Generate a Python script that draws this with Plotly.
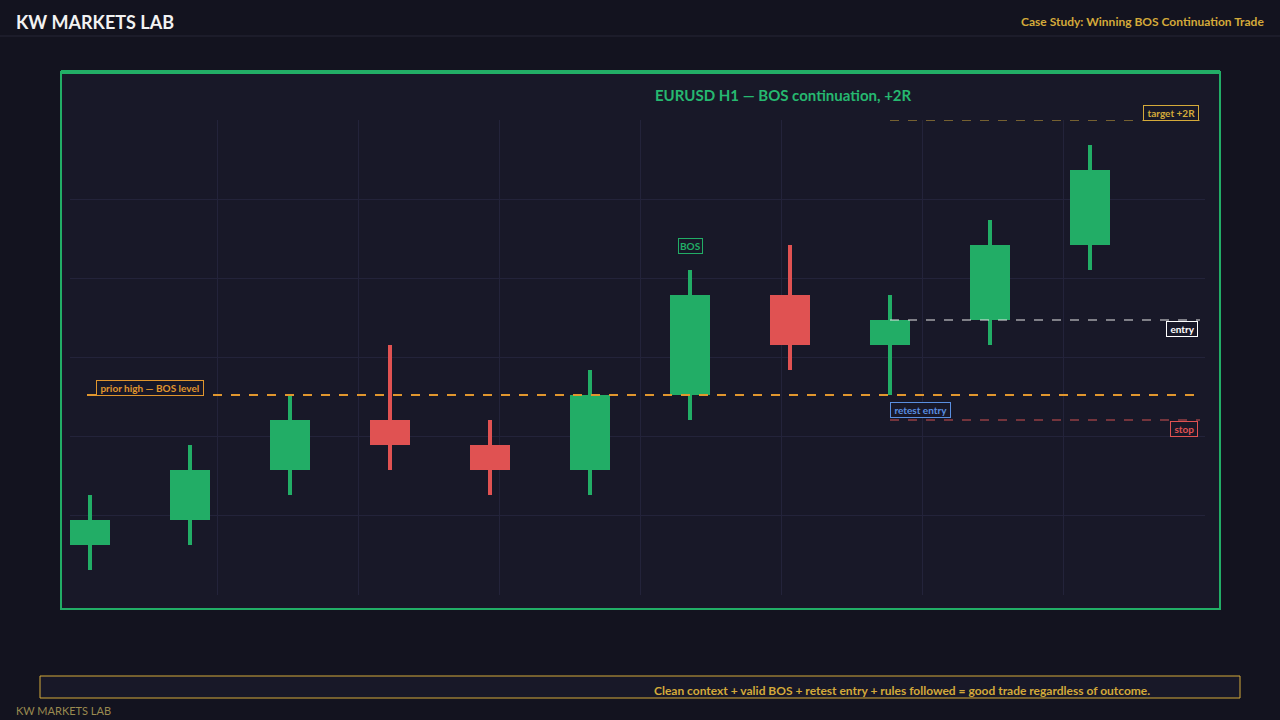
import plotly.graph_objects as go

idx = list(range(11))
opens  = [1, 2, 4, 6, 5, 4, 7, 11, 9, 10, 13]
closes = [2, 4, 6, 5, 4, 7, 11, 9, 10, 13, 16]
highs  = [3, 5, 7, 9, 6, 8, 12, 13, 11, 14, 17]
lows   = [0, 1, 3, 4, 3, 3, 6, 8, 7, 9, 12]
bos_level, entry_level, stop_level, target_level = 7, 10, 6, 18
entry_idx = 8
x_grid = [1.27, 2.68, 4.09, 5.5, 6.91, 8.32, 9.73]

GREEN, RED = "#22ad66", "#e05252"
cols = [GREEN if c >= o else RED for o, c in zip(opens, closes)]
FONT = "Lato"
L, W, T, H = 70, 1135, 120, 475   # plot area pixels

fig = go.Figure()
fig.add_trace(go.Bar(x=idx, base=lows, y=[h - l for h, l in zip(highs, lows)], width=0.045,
                     marker=dict(color=cols, line=dict(width=0)), hoverinfo="skip"))
fig.add_trace(go.Bar(x=idx, base=[min(o, c) for o, c in zip(opens, closes)],
                     y=[abs(c - o) for o, c in zip(opens, closes)], width=0.4,
                     marker=dict(color=cols, line=dict(width=0)), hoverinfo="skip"))

def hline(y, x0, x1, color, width, dash):
    fig.add_shape(type="line", xref="x", yref="y", x0=x0, x1=x1, y0=y, y1=y,
                  line=dict(color=color, width=width, dash=dash))

hline(bos_level, -0.03, 11.05, "#e0962e", 2, "dash")
hline(target_level, entry_idx, 11.1, "#d4aa3a", 1, "dash")
hline(entry_level, entry_idx, 11.1, "#e6e6e6", 1, "dash")
hline(stop_level, entry_idx, 11.1, "#d05050", 1, "dash")

def label(text, x, y, color, xanchor, yref="y"):
    fig.add_annotation(x=x, y=y, xref="x", yref=yref, text=text, showarrow=False,
                       xanchor=xanchor, yanchor="middle",
                       font=dict(family=FONT, size=10, color=color, weight="bold"),
                       bordercolor=color, borderwidth=1, borderpad=1, bgcolor="#181828")

def px_x(xp): return (xp - L) / W
def px_y(yp): return (T + H - yp) / H

label("&nbsp;target +2R&nbsp;", 11.09, px_y(113), "#d4aa3a", "right", yref="paper")
label("&nbsp;entry&nbsp;", 11.08, 9.65, "#ffffff", "right")
label("&nbsp;stop&nbsp;", 11.08, 5.65, "#e05252", "right")
label("&nbsp;retest entry&nbsp;", 8.0, 6.4, "#5a8fe0", "left")
label("&nbsp;prior high — BOS level&nbsp;", 0.06, 7.3, "#e0962e", "left")
label("BOS", 6.0, 12.95, GREEN, "center")

fig.add_shape(type="rect", xref="paper", yref="paper", x0=px_x(61), x1=px_x(1220),
              y0=px_y(609), y1=px_y(72), line=dict(color=GREEN, width=2),
              fillcolor="#181828", layer="below")
fig.add_shape(type="line", xref="paper", yref="paper", x0=px_x(61), x1=px_x(1220),
              y0=px_y(72), y1=px_y(72), line=dict(color=GREEN, width=4))
fig.add_shape(type="line", xref="paper", yref="paper", x0=px_x(0), x1=px_x(1280),
              y0=px_y(36), y1=px_y(36), line=dict(color="#262636", width=1))
fig.add_shape(type="rect", xref="paper", yref="paper", x0=px_x(40), x1=px_x(1240),
              y0=px_y(698), y1=px_y(676), line=dict(color="#d4aa3a", width=1),
              fillcolor="#181828")

def ptext(text, xp, yp, size, color, xanchor, bold=True):
    fig.add_annotation(x=px_x(xp), y=px_y(yp), xref="paper", yref="paper", text=text,
                       showarrow=False, xanchor=xanchor, yanchor="middle",
                       font=dict(family=FONT, size=size, color=color, weight="bold" if bold else "normal"))

ptext("KW MARKETS LAB", 14, 22, 18, "#f2f2f2", "left")
ptext("Case Study: Winning BOS Continuation Trade", 1266, 22, 12, "#d4aa3a", "right")
ptext("EURUSD H1 — BOS continuation, +2R", 783, 95, 15, "#26b870", "center")
ptext("Clean context + valid BOS + retest entry + rules followed = good trade regardless of outcome.",
      902, 690, 12, "#d4aa3a", "center")
ptext("KW MARKETS LAB", 14, 710, 11, "#9a8a50", "left", bold=False)

fig.update_layout(
    width=1280, height=720, margin=dict(l=L, r=1280 - L - W, t=T, b=720 - T - H),
    paper_bgcolor="#13131f", plot_bgcolor="#181828", barmode="overlay", bargap=0,
    showlegend=False,
    xaxis=dict(range=[-0.2, 11.15], tickmode="array", tickvals=x_grid, showticklabels=False,
               gridcolor="#23233a", zeroline=False, fixedrange=True),
    yaxis=dict(range=[-1, 18], tick0=2.2, dtick=3.16, showticklabels=False,
               gridcolor="#23233a", zeroline=False, fixedrange=True),
)
fig.write_html("out.html", config={"displayModeBar": False},
               post_script="document.body.style.margin='0';document.body.style.background='#13131f';")
